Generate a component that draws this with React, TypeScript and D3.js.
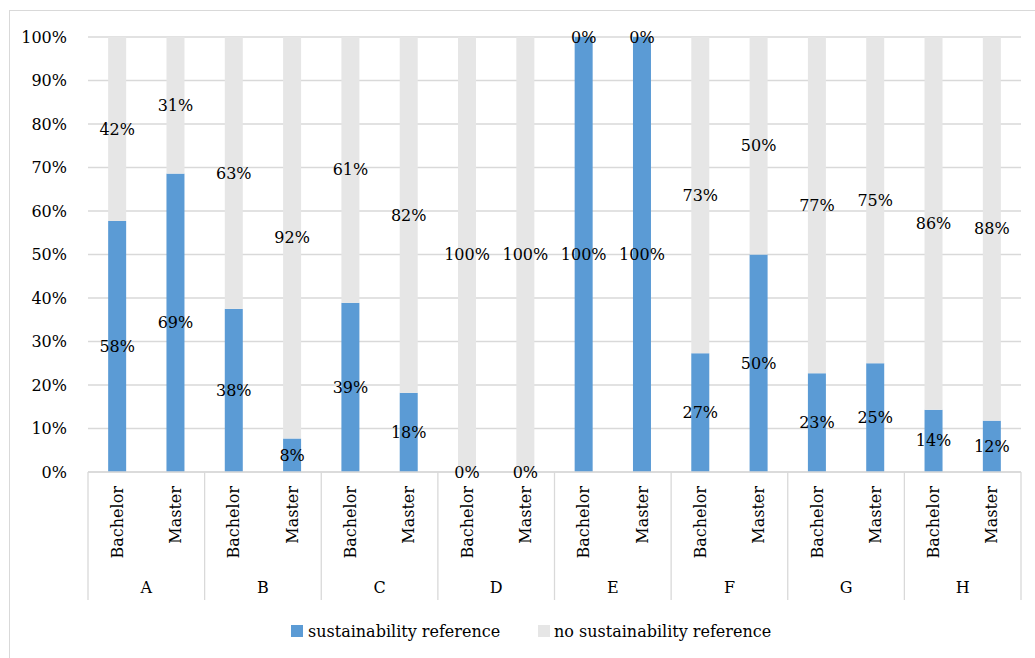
import React from "react";
import * as d3 from "d3";

const groups = ["A", "B", "C", "D", "E", "F", "G", "H"];
const levels = ["Bachelor", "Master"];
// sustainability reference share (%) per group: [Bachelor, Master]
const sustBachelor = [57.7, 37.5, 38.9, 0, 100, 27.3, 22.7, 14.3];
const sustMaster = [68.6, 7.7, 18.2, 0, 100, 50, 25, 11.8];
const yTicks = [0, 10, 20, 30, 40, 50, 60, 70, 80, 90, 100];
const seriesNames = ["sustainability reference", "no sustainability reference"];
const colors = ["#5b9bd5", "#e6e6e6"];

const W = 1035;
const H = 658;
const FONT = "'DejaVu Serif', serif";
const FS = 16;

export default function App() {
  const left = 88;
  const right = 1021;
  const top = 37;
  const bottom = 472;
  const x = d3.scaleBand<string>().domain(groups).range([left, right]).padding(0);
  const xi = d3.scaleBand<string>().domain(levels).range([0, x.bandwidth()]).padding(0);
  const y = d3.scaleLinear().domain([0, 100]).range([bottom, top]);
  const barW = 18;

  const rows = groups.flatMap((g, gi) =>
    levels.map((lv, li) => {
      const s = li === 0 ? sustBachelor[gi] : sustMaster[gi];
      return { g, lv, s, n: 100 - s };
    })
  );

  return (
    <svg width={W} height={H} style={{ position: "absolute", left: 0, top: 0 }} fontFamily={FONT}>
      <rect x={9.5} y={10.5} width={W + 10} height={H + 10} fill="white" stroke="#d9d9d9" strokeWidth={1} />
      {yTicks.map((t) => (
        <g key={t}>
          <line x1={left} x2={right} y1={y(t)} y2={y(t)} stroke="#d9d9d9" strokeWidth={1.3} />
          <text x={67} y={y(t)} dy="0.35em" textAnchor="end" fontSize={FS} fill="#000">
            {t}%
          </text>
        </g>
      ))}
      {rows.map((r) => {
        const cx = (x(r.g) as number) + (xi(r.lv) as number) + xi.bandwidth() / 2;
        return (
          <g key={r.g + r.lv}>
            <rect x={cx - barW / 2} y={y(r.s)} width={barW} height={y(0) - y(r.s)} fill={colors[0]} />
            <rect x={cx - barW / 2} y={y(100)} width={barW} height={y(r.s) - y(100)} fill={colors[1]} />
          </g>
        );
      })}
      <line x1={left} x2={right} y1={bottom} y2={bottom} stroke="#d9d9d9" strokeWidth={1.3} />
      {rows.map((r) => {
        const cx = (x(r.g) as number) + (xi(r.lv) as number) + xi.bandwidth() / 2;
        return (
          <g key={"l" + r.g + r.lv}>
            <text x={cx} y={y(r.s / 2)} dy="0.35em" textAnchor="middle" fontSize={FS} fill="#000">
              {Math.round(r.s)}%
            </text>
            <text x={cx} y={y(r.s + r.n / 2)} dy="0.35em" textAnchor="middle" fontSize={FS} fill="#000">
              {Math.round(r.n)}%
            </text>
          </g>
        );
      })}
      {groups.concat(["_end"]).map((g, i) => {
        const gx = i < groups.length ? (x(g) as number) : right;
        return <line key={"sep" + g} x1={gx} x2={gx} y1={bottom} y2={600} stroke="#d9d9d9" strokeWidth={1.3} />;
      })}
      {rows.map((r) => {
        const cx = (x(r.g) as number) + (xi(r.lv) as number) + xi.bandwidth() / 2;
        return (
          <text
            key={"c" + r.g + r.lv}
            transform={`translate(${cx},486) rotate(-90)`}
            dy="0.35em"
            textAnchor="end"
            fontSize={FS}
            fill="#000"
          >
            {r.lv}
          </text>
        );
      })}
      {groups.map((g) => (
        <text key={"g" + g} x={(x(g) as number) + x.bandwidth() / 2} y={587} dy="0.35em" textAnchor="middle" fontSize={FS} fill="#000">
          {g}
        </text>
      ))}
      <g>
        <rect x={291} y={625} width={12} height={12} fill={colors[0]} />
        <text x={308} y={631} dy="0.35em" fontSize={FS} fill="#000">
          {seriesNames[0]}
        </text>
        <rect x={538} y={625} width={12} height={12} fill={colors[1]} />
        <text x={554} y={631} dy="0.35em" fontSize={FS} fill="#000">
          {seriesNames[1]}
        </text>
      </g>
    </svg>
  );
}
